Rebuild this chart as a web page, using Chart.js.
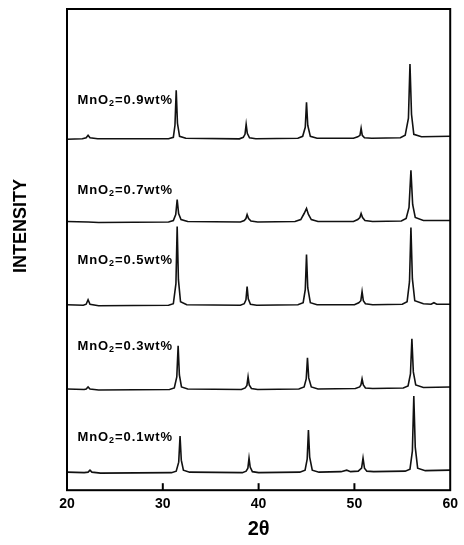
<!DOCTYPE html>
<html>
<head>
<meta charset="utf-8">
<script src="https://cdn.jsdelivr.net/npm/chart.js@4.4.0/dist/chart.umd.min.js"></script>
<style>
  html, body { margin: 0; padding: 0; background: #fff; }
  #wrap { width: 464px; height: 545px; }
</style>
</head>
<body>
<div id="wrap"><canvas id="xrd-chart"></canvas></div>
<script>
// MnO2 content of each sample, bottom trace first
const samples = ['0.1', '0.3', '0.5', '0.7', '0.9'];

// vertical offset of each trace (stacked plot)
const offsets = [17, 100, 184, 267, 350];

// where the sample label sits, in intensity above the trace baseline
const labelHeights = [36, 43, 45, 32, 39];

const xTicks = [20, 30, 40, 50, 60];

// intensity above baseline: [2theta, counts]
const mno2_01 = [
    [20, 1], [21.8, 0.5], [22.2, 1], [22.4, 3], [22.6, 1], [23.5, 0],
    [30.9, 0.5], [31.4, 2], [31.66, 11], [31.8, 37], [31.93, 13], [32.15, 3], [32.8, 1],
    [38.3, 0.5], [38.7, 2], [38.88, 5], [39.0, 15], [39.12, 6], [39.35, 1.5], [40, 0.5],
    [44.3, 1], [44.85, 3], [45.07, 14], [45.2, 43], [45.33, 16], [45.6, 3], [46.3, 1],
    [48.6, 1.5], [49.2, 3], [49.6, 1.5], [50.4, 2], [50.75, 5], [50.9, 15], [51.05, 5], [51.3, 2], [52, 1.5],
    [55.3, 2], [55.8, 4], [56.05, 22], [56.2, 77], [56.35, 26], [56.6, 5], [57.4, 2.5], [60, 3]
];
const mno2_03 = [
    [20, 1], [21.8, 0.5], [22.0, 1], [22.2, 3], [22.4, 1], [23.3, 0],
    [30.7, 0.5], [31.2, 2], [31.46, 13], [31.6, 44], [31.73, 15], [31.95, 3], [32.6, 1],
    [38.2, 0.5], [38.6, 2], [38.78, 4.5], [38.9, 13], [39.02, 5], [39.25, 1.5], [39.9, 0.5],
    [44.2, 1], [44.75, 3], [44.97, 11], [45.1, 32], [45.23, 12], [45.5, 3], [46.2, 1],
    [50.1, 1.5], [50.55, 3], [50.68, 5], [50.8, 11], [50.93, 5], [51.15, 2], [51.9, 1.5],
    [55.1, 2], [55.6, 4], [55.85, 16], [56.0, 51], [56.15, 18], [56.4, 5], [57.2, 2.5], [60, 3]
];
const mno2_05 = [
    [20, 1], [21.7, 0.5], [22.0, 1.5], [22.2, 6], [22.4, 1.5], [23.3, 0],
    [30.6, 0.5], [31.1, 2], [31.37, 22], [31.5, 79], [31.63, 26], [31.85, 4], [32.5, 1],
    [38.1, 0.5], [38.5, 2], [38.68, 6], [38.8, 19], [38.92, 7], [39.15, 1.5], [39.8, 0.5],
    [44.1, 1], [44.65, 3], [44.87, 16], [45.0, 51], [45.13, 18], [45.4, 3], [46.1, 1],
    [50.0, 1], [50.45, 3], [50.67, 5], [50.8, 14], [50.93, 5], [51.15, 2], [51.9, 1],
    [55.0, 1.5], [55.5, 4], [55.75, 24], [55.9, 78], [56.05, 27], [56.3, 5], [57.2, 2], [58.0, 1.5], [58.3, 3], [58.6, 1.5], [60, 1.5]
];
const mno2_07 = [
    [20, 1], [22.2, 0.5], [23.3, 0],
    [30.6, 0.5], [31.1, 2], [31.35, 8], [31.5, 23], [31.65, 9], [31.9, 3], [32.6, 1],
    [38.1, 0.5], [38.5, 2], [38.68, 4], [38.8, 8], [38.95, 4], [39.2, 1.5], [39.9, 0.5],
    [43.8, 1], [44.4, 3], [44.75, 9], [45.0, 14], [45.2, 8], [45.5, 3], [46.2, 1],
    [49.9, 1], [50.35, 3], [50.57, 5], [50.7, 9], [50.85, 5], [51.1, 2], [51.9, 1],
    [54.9, 1.5], [55.4, 4], [55.7, 15], [55.9, 52], [56.08, 18], [56.35, 5], [57.2, 2], [60, 2]
];
const mno2_09 = [
    [20, 0], [21.6, 0.5], [22.0, 1.5], [22.2, 4], [22.4, 1.5], [23.2, 0.5],
    [30.6, 0.5], [31.1, 2], [31.27, 14], [31.4, 49], [31.53, 16], [31.75, 3], [32.4, 1],
    [38.0, 0.5], [38.4, 2], [38.58, 5], [38.7, 15], [38.82, 6], [39.05, 1.5], [39.7, 0.5],
    [44.1, 1], [44.6, 3], [44.87, 12], [45.0, 37], [45.13, 14], [45.4, 3], [46.1, 1],
    [49.9, 1], [50.35, 2.5], [50.58, 4], [50.7, 11], [50.82, 4], [51.05, 1.5], [51.8, 1],
    [54.8, 1.5], [55.3, 4], [55.64, 21], [55.8, 75], [55.96, 25], [56.2, 5], [57.0, 2.5], [60, 3]
];

const traces = [mno2_01, mno2_03, mno2_05, mno2_07, mno2_09];

const FONT = '"Liberation Sans", Arial, Helvetica, sans-serif';

// frame, inward x ticks, sample labels and the y title
const decorations = {
    id: 'decorations',
    afterDraw(chart) {
        const { ctx, chartArea: a, scales: { x, y } } = chart;
        ctx.save();
        ctx.strokeStyle = '#000';
        ctx.lineWidth = 2;
        ctx.strokeRect(a.left, a.top, a.right - a.left, a.bottom - a.top);

        // inward tick marks on the bottom axis
        xTicks.slice(1, -1).forEach(v => {
            const px = x.getPixelForValue(v);
            ctx.beginPath();
            ctx.moveTo(px, a.bottom);
            ctx.lineTo(px, a.bottom - 7);
            ctx.stroke();
        });

        // sample labels: MnO + subscript 2 + "=x.xwt%"
        ctx.fillStyle = '#000';
        ctx.textBaseline = 'middle';
        ctx.textAlign = 'left';
        ctx.letterSpacing = '0.9px';
        samples.forEach((s, i) => {
            let px = x.getPixelForValue(21.1);
            const py = y.getPixelForValue(offsets[i] + labelHeights[i]);
            ctx.font = 'bold 13px ' + FONT;
            ctx.fillText('MnO', px, py);
            px += ctx.measureText('MnO').width;
            ctx.font = 'bold 9px ' + FONT;
            ctx.fillText('2', px, py + 3);
            px += ctx.measureText('2').width;
            ctx.font = 'bold 13px ' + FONT;
            ctx.fillText('=' + s + 'wt%', px, py);
        });
        ctx.letterSpacing = '0px';

        // y axis title
        ctx.translate(21, 226);
        ctx.rotate(-Math.PI / 2);
        ctx.textAlign = 'center';
        ctx.font = 'bold 18px ' + FONT;
        ctx.fillText('INTENSITY', 0, 0);
        ctx.restore();
    }
};

new Chart(document.getElementById('xrd-chart'), {
    type: 'line',
    data: {
        datasets: traces.map((t, i) => ({
            label: 'MnO2=' + samples[i] + 'wt%',
            data: t.map(p => ({ x: p[0], y: p[1] + offsets[i] })),
            borderColor: '#111',
            borderWidth: 1.6,
            pointRadius: 0,
            tension: 0,
            fill: false
        }))
    },
    options: {
        responsive: true,
        maintainAspectRatio: false,
        animation: false,
        layout: { padding: { left: 67, right: 13, top: 9, bottom: 6 } },
        plugins: {
            legend: { display: false },
            tooltip: { enabled: false }
        },
        scales: {
            x: {
                type: 'linear',
                min: 20,
                max: 60,
                afterBuildTicks: scale => {
                    scale.ticks = xTicks.map(v => ({ value: v }));
                },
                grid: { display: false, drawTicks: false, tickLength: 0 },
                border: { display: false },
                ticks: {
                    color: '#000',
                    padding: 6,
                    maxRotation: 0,
                    font: { family: FONT, size: 14, weight: 'bold' }
                },
                title: {
                    display: true,
                    text: '2θ',
                    color: '#000',
                    padding: { top: 0, bottom: 0 },
                    font: { family: FONT, size: 20, weight: 'bold', lineHeight: 1 }
                }
            },
            y: {
                display: false,
                min: 0,
                max: 480
            }
        }
    },
    plugins: [decorations]
});
</script>
</body>
</html>
